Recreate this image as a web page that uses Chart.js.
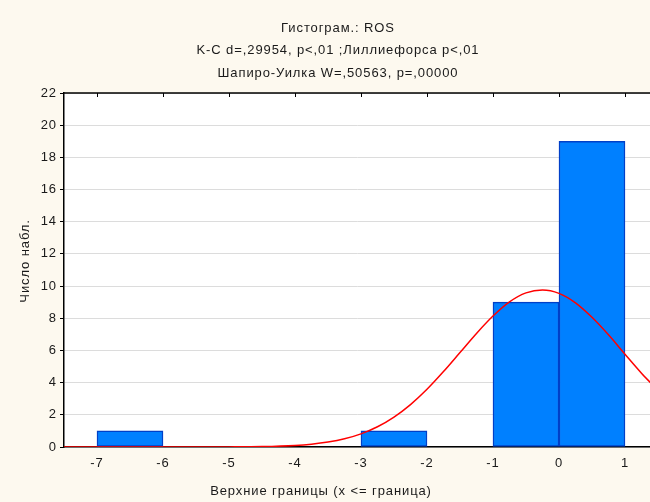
<!DOCTYPE html>
<html>
<head>
<meta charset="utf-8">
<script src="https://cdn.jsdelivr.net/npm/chart.js@4/dist/chart.umd.min.js"></script>
<style>
  html, body { margin: 0; padding: 0; background: #fdf9ef; overflow: hidden; }
  #wrap { width: 650px; height: 502px; position: relative; }
</style>
</head>
<body>
<div id="wrap"><canvas id="histChart"></canvas></div>
<script>
// histogram bins: centre of each bin and its count
const binCenters = [-6.5, -2.5, -0.5, 0.5];
const binCounts = [1, 1, 9, 19];

// fitted normal curve, sampled along x
const curveX = [-7.5, -7, -6.5, -6, -5.5, -5, -4.5, -4, -3.75, -3.5, -3.25, -3, -2.75, -2.5, -2.25, -2, -1.75, -1.5, -1.25, -1, -0.75, -0.5, -0.25, 0, 0.25, 0.5, 0.75, 1, 1.25, 1.5];
const curveY = [0, 0, 0, 0, 0.001, 0.006, 0.026, 0.096, 0.174, 0.305, 0.509, 0.817, 1.258, 1.859, 2.636, 3.587, 4.689, 5.873, 7.06, 8.14, 9.02, 9.58, 9.76, 9.55, 8.96, 8.06, 6.97, 5.77, 4.59, 3.51];

const xTicks = [-7, -6, -5, -4, -3, -2, -1, 0, 1];

const titleLines = [
    "Гистограм.: ROS",
    "K-C d=,29954, p<,01 ;Лиллиефорса p<,01",
    "Шапиро-Уилка W=,50563, p=,00000",
];
const xTitle = "Верхние границы (x <= граница)";
const yTitle = "Число набл.";

const FONT = "'Liberation Sans', Arial, sans-serif";
const TEXT = "#1a1a1a";

const frame = {
    id: "frame",
    beforeDraw(chart) {
        const { ctx, chartArea: a } = chart;
        ctx.save();
        ctx.fillStyle = "#fdf9ef";
        ctx.fillRect(0, 0, chart.width, chart.height);
        ctx.fillStyle = "#ffffff";
        ctx.fillRect(a.left, a.top, a.right - a.left, a.bottom - a.top);
        ctx.restore();
        // slightly wider lettering for all labels
        ctx.letterSpacing = "0.9px";
    },
    afterDraw(chart) {
        const { ctx, chartArea: a } = chart;
        const xs = chart.scales.x;
        ctx.save();
        // top frame line with inward ticks
        ctx.strokeStyle = "#000";
        ctx.lineWidth = 1.5;
        ctx.beginPath();
        ctx.moveTo(a.left, a.top);
        ctx.lineTo(a.right, a.top);
        ctx.stroke();
        ctx.lineWidth = 1;
        xs.ticks.forEach(t => {
            const px = Math.round(xs.getPixelForValue(t.value)) + 0.5;
            ctx.beginPath();
            ctx.moveTo(px, a.top);
            ctx.lineTo(px, a.top + 4);
            ctx.stroke();
        });

        ctx.fillStyle = TEXT;
        ctx.font = "13px " + FONT;
        ctx.textAlign = "center";
        ctx.textBaseline = "middle";
        titleLines.forEach((line, i) => ctx.fillText(line, 338, 28 + i * 22.5));
        ctx.fillText(xTitle, 321, 491);

        ctx.translate(25, 261);
        ctx.rotate(-Math.PI / 2);
        ctx.fillText(yTitle, 0, 0);
        ctx.restore();
    },
};

new Chart(document.getElementById("histChart"), {
    data: {
        datasets: [
            {
                type: "line",
                order: 0,
                data: curveX.map((x, i) => ({ x: x, y: curveY[i] })),
                borderColor: "#ff0000",
                borderWidth: 1.5,
                pointRadius: 0,
                cubicInterpolationMode: "monotone",
            },
            {
                type: "bar",
                order: 1,
                data: binCenters.map((x, i) => ({ x: x, y: binCounts[i] })),
                backgroundColor: "#0080ff",
                borderColor: "#0040c8",
                borderWidth: 1.5,
                borderSkipped: false,
                barPercentage: 1,
                categoryPercentage: 1,
            },
        ],
    },
    options: {
        responsive: true,
        maintainAspectRatio: false,
        animation: false,
        devicePixelRatio: 1,
        layout: { padding: { top: 93, left: 0, right: 0, bottom: 0 } },
        plugins: {
            legend: { display: false },
            tooltip: { enabled: false },
        },
        scales: {
            x: {
                type: "linear",
                offset: false,
                min: -7.5,
                max: 1.379,
                afterBuildTicks: (scale) => {
                    scale.ticks = xTicks.map(v => ({ value: v }));
                },
                afterFit: (scale) => { scale.height = 55; },
                grid: { display: true, drawOnChartArea: false, drawTicks: false },
                border: { color: "#000", width: 1.5 },
                ticks: {
                    color: TEXT,
                    font: { family: FONT, size: 13 },
                    padding: 9,
                    maxRotation: 0,
                    autoSkip: false,
                },
            },
            y: {
                min: 0,
                max: 22,
                afterFit: (scale) => { scale.width = 64; },
                grid: { color: "#dcdcdc", tickColor: "#000", tickLength: 4 },
                border: { color: "#000", width: 1.5 },
                ticks: {
                    stepSize: 2,
                    color: TEXT,
                    font: { family: FONT, size: 13 },
                    padding: 3,
                },
            },
        },
    },
    plugins: [frame],
});
</script>
</body>
</html>
